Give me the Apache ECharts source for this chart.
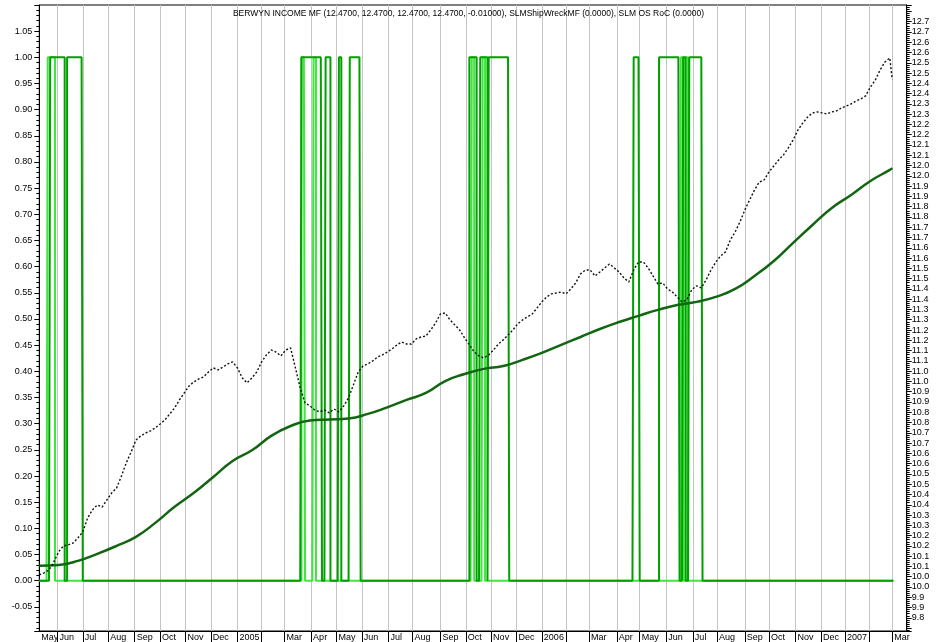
<!DOCTYPE html>
<html>
<head>
<meta charset="utf-8">
<title>BERWYN INCOME MF</title>
<script src="https://cdn.jsdelivr.net/npm/echarts@6/dist/echarts.min.js"></script>
<style>
    html, body { margin: 0; padding: 0; background: #fff; }
    #chart { width: 937px; height: 642px; }
</style>
</head>
<body>
<div id="chart"></div>
<script type="text/javascript">
    // trading calendar shown on the x axis
    var firstDay = '2004-05-10';
    var lastDay = '2007-03-19';
    var holidays = ['2004-05-31', '2004-06-11', '2004-07-05', '2004-09-06', '2004-11-25', '2004-12-24',
        '2005-01-17', '2005-02-21', '2005-03-25', '2005-05-30', '2005-07-04', '2005-09-05', '2005-11-24', '2005-12-26',
        '2006-01-02', '2006-01-16', '2006-02-20', '2006-04-14', '2006-05-29', '2006-07-04', '2006-09-04', '2006-11-23', '2006-12-25',
        '2007-01-01', '2007-01-02', '2007-01-15', '2007-02-19'];
    var monthNames = ['Jan', 'Feb', 'Mar', 'Apr', 'May', 'Jun', 'Jul', 'Aug', 'Sep', 'Oct', 'Nov', 'Dec'];

    // BERWYN INCOME MF close, read every 4th trading day from firstDay
    var priceStep = 4;
    var priceValues = [
        10.059, 10.069, 10.083, 10.122, 10.171, 10.200, 10.205, 10.214, 10.239, 10.268,
        10.336, 10.375, 10.399, 10.389, 10.424, 10.458, 10.482, 10.540, 10.604, 10.657,
        10.715, 10.735, 10.749, 10.759, 10.774, 10.793, 10.813, 10.842, 10.871, 10.910,
        10.944, 10.978, 10.998, 11.012, 11.022, 11.046, 11.066, 11.056, 11.070, 11.085,
        11.095, 11.066, 11.017, 10.993, 11.017, 11.046, 11.095, 11.129, 11.153, 11.143,
        11.124, 11.153, 11.163, 11.066, 10.968, 10.895, 10.881, 10.861, 10.852, 10.861,
        10.847, 10.866, 10.852, 10.881, 10.920, 10.983, 11.046, 11.075, 11.085, 11.100,
        11.119, 11.129, 11.143, 11.158, 11.177, 11.192, 11.182, 11.182, 11.207, 11.216,
        11.221, 11.250, 11.284, 11.328, 11.333, 11.299, 11.275, 11.250, 11.212, 11.178,
        11.143, 11.124, 11.114, 11.129, 11.153, 11.182, 11.202, 11.226, 11.250, 11.280,
        11.299, 11.314, 11.328, 11.357, 11.387, 11.411, 11.426, 11.430, 11.435, 11.426,
        11.450, 11.479, 11.523, 11.542, 11.542, 11.513, 11.532, 11.552, 11.571, 11.552,
        11.532, 11.503, 11.484, 11.542, 11.581, 11.581, 11.552, 11.513, 11.474, 11.479,
        11.450, 11.435, 11.411, 11.387, 11.397, 11.445, 11.465, 11.455, 11.494, 11.542,
        11.581, 11.610, 11.630, 11.688, 11.727, 11.776, 11.834, 11.883, 11.931, 11.970,
        11.980, 12.019, 12.048, 12.077, 12.102, 12.136, 12.175, 12.223, 12.257, 12.286,
        12.306, 12.311, 12.306, 12.301, 12.311, 12.316, 12.330, 12.340, 12.350, 12.364,
        12.374, 12.389, 12.432, 12.466, 12.515, 12.554, 12.573
    ];
    var lastDate = '2007-03-01';
    var lastClose = 12.47;

    // slow average (dark green), read every 16th trading day
    var trendStep = 16;
    var trendValues = [
        10.103, 10.107, 10.127, 10.161, 10.200, 10.244, 10.312, 10.390, 10.458, 10.535,
        10.613, 10.665, 10.735, 10.783, 10.810, 10.815, 10.820, 10.842, 10.874, 10.910,
        10.944, 11.002, 11.036, 11.061, 11.075, 11.105, 11.139, 11.178, 11.216, 11.255,
        11.289, 11.319, 11.348, 11.372, 11.387, 11.411, 11.450, 11.513, 11.586, 11.674,
        11.761, 11.844, 11.907, 11.975, 12.029
    ];
    var trendLast = 12.038;

    // signal periods (value 1), first and last day on
    var shipWreckOn = [
        ['2004-05-21', '2004-06-08'], ['2004-06-14', '2004-06-30'],
        ['2005-03-21', '2005-04-13'], ['2005-04-19', '2005-04-22'], ['2005-05-04', '2005-05-05'], ['2005-05-17', '2005-05-27'],
        ['2005-10-06', '2005-10-13'], ['2005-10-19', '2005-10-26'], ['2005-10-28', '2005-11-21'],
        ['2006-04-24', '2006-04-28'], ['2006-05-23', '2006-06-15'], ['2006-06-21', '2006-06-22'], ['2006-06-28', '2006-07-13']
    ];
    var osRocOn = [
        ['2004-05-19', '2004-05-26'],
        ['2005-03-21', '2005-03-23'], ['2005-04-05', '2005-04-06'],
        ['2005-10-10', '2005-10-11'], ['2005-10-21', '2005-10-24'],
        ['2006-06-19', '2006-06-20'], ['2006-06-23', '2006-06-26']
    ];

    var days = [];
    var d = new Date(firstDay + 'T00:00:00Z');
    var stop = new Date(lastDay + 'T00:00:00Z');
    while (d <= stop) {
        var s = d.toISOString().slice(0, 10);
        var wd = d.getUTCDay();
        if (wd !== 0 && wd !== 6 && holidays.indexOf(s) < 0) days.push(s);
        d.setUTCDate(d.getUTCDate() + 1);
    }
    var endIdx = days.indexOf(lastDate);

    function monthStart(i) {
        return i > 0 && days[i].slice(5, 7) !== days[i - 1].slice(5, 7);
    }

    var priceData = days.map(function () { return null; });
    priceValues.forEach(function (v, k) { priceData[k * priceStep] = v; });
    priceData[endIdx] = lastClose;

    var trendData = days.map(function () { return null; });
    trendValues.forEach(function (v, k) { trendData[k * trendStep] = v; });
    trendData[endIdx] = trendLast;

    function signal(spans) {
        return days.map(function (day, i) {
            if (i > endIdx) return null;
            for (var j = 0; j < spans.length; j++) {
                if (day >= spans[j][0] && day <= spans[j][1]) return 1;
            }
            return 0;
        });
    }

    var font = 'Liberation Sans';
    var myChart = echarts.init(document.getElementById('chart'));
    var option = {
        animation: false,
        title: {
            text: 'BERWYN INCOME MF (12.4700, 12.4700, 12.4700, 12.4700, -0.01000), SLMShipWreckMF (0.0000), SLM OS RoC (0.0000)',
            left: 'center',
            top: 9,
            padding: 0,
            textStyle: {fontFamily: font, fontSize: 8.5, fontWeight: 'normal', color: '#000'}
        },
        grid: {
            left: 39.3, right: 30.3, top: 5, bottom: 11,
            show: true, borderColor: '#000', borderWidth: 1
        },
        xAxis: {
            type: 'category',
            data: days,
            boundaryGap: false,
            axisLine: {onZero: false, lineStyle: {color: '#000', width: 1}},
            axisTick: {interval: monthStart, length: 11, lineStyle: {color: '#000'}},
            axisLabel: {
                interval: function (i, v) { return i === 0 || (monthStart(i) && v.slice(5, 7) !== '02'); },
                formatter: function (v) {
                    var m = +v.slice(5, 7);
                    return m === 1 ? v.slice(0, 4) : monthNames[m - 1];
                },
                align: 'left', verticalAlign: 'top', margin: 2, padding: [0, 0, 0, 2],
                fontFamily: font, fontSize: 9, color: '#000'
            },
            splitLine: {show: true, interval: monthStart, lineStyle: {color: '#c4c4c4', width: 1}}
        },
        yAxis: [{
            type: 'value',
            position: 'left',
            min: -0.0961,
            max: 1.0999,
            splitNumber: 24,
            axisLine: {show: true, lineStyle: {color: '#000'}},
            axisTick: {show: true, length: 5, lineStyle: {color: '#000'}},
            minorTick: {show: true, splitNumber: 5, length: 3, lineStyle: {color: '#000'}},
            splitLine: {show: false},
            axisLabel: {
                showMinLabel: false, showMaxLabel: false, margin: 7,
                fontFamily: font, fontSize: 9, color: '#000',
                formatter: function (v) { return v.toFixed(2); }
            }
        }, {
            type: 'value',
            position: 'right',
            min: 9.786,
            max: 12.831,
            splitNumber: 61,
            axisLine: {show: true, lineStyle: {color: '#000'}},
            axisTick: {show: true, length: 5, lineStyle: {color: '#000'}},
            minorTick: {show: true, splitNumber: 5, length: 3, lineStyle: {color: '#000'}},
            splitLine: {show: false},
            axisLabel: {
                showMinLabel: false, showMaxLabel: false, margin: 5,
                fontFamily: font, fontSize: 9, color: '#000',
                formatter: function (v) {
                    if (v > 12.78 || v < 9.82) return '';
                    return (Math.floor(v * 10 + 1e-6) / 10).toFixed(1);
                }
            }
        }],
        series: [{
            name: 'SLM OS RoC',
            type: 'line',
            yAxisIndex: 0,
            data: signal(osRocOn),
            step: 'end',
            showSymbol: false,
            lineStyle: {color: '#3ee63e', width: 2}
        }, {
            name: 'SLMShipWreckMF',
            type: 'line',
            yAxisIndex: 0,
            data: signal(shipWreckOn),
            step: 'end',
            showSymbol: false,
            lineStyle: {color: '#00a000', width: 2}
        }, {
            name: 'Average',
            type: 'line',
            yAxisIndex: 1,
            data: trendData,
            connectNulls: true,
            smooth: true,
            showSymbol: false,
            lineStyle: {color: '#126612', width: 2.5}
        }, {
            name: 'BERWYN INCOME MF',
            type: 'line',
            yAxisIndex: 1,
            data: priceData,
            connectNulls: true,
            showSymbol: false,
            lineStyle: {color: '#111', width: 1.4, type: [2, 2]}
        }]
    };
    myChart.setOption(option);
</script>
</body>
</html>
